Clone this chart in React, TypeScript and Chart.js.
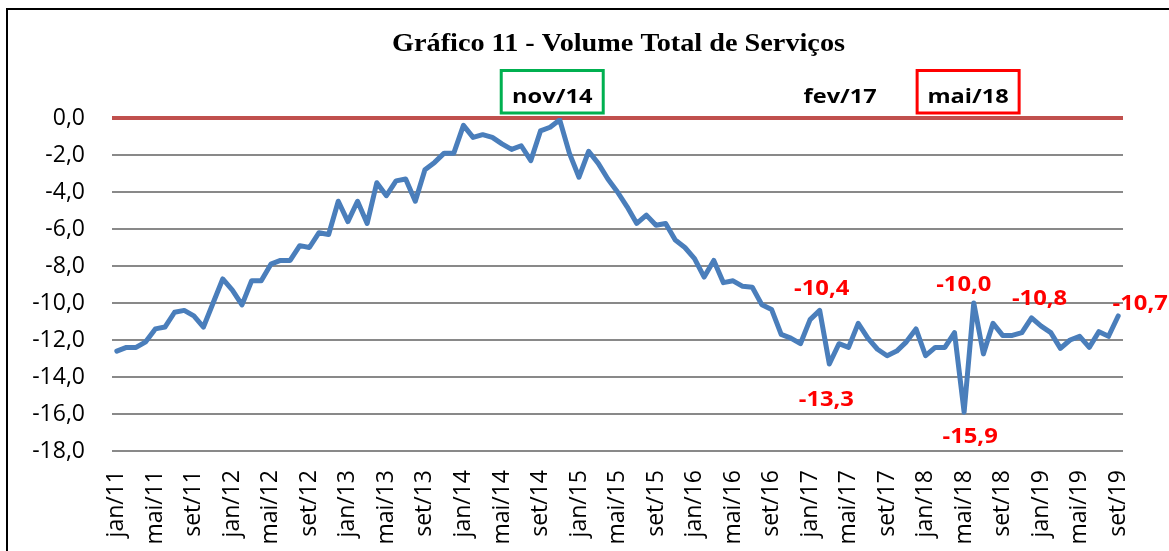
import React, { useEffect, useRef } from "react";
import { Chart, registerables } from "chart.js";

Chart.register(...registerables);

// ---------- DATA ----------
const MONTHS = ["jan", "fev", "mar", "abr", "mai", "jun", "jul", "ago", "set", "out", "nov", "dez"];
const YEARS = ["11", "12", "13", "14", "15", "16", "17", "18", "19"];
const LAST_CATEGORY = "set/19";

const allMonths: string[] = [];
YEARS.forEach((yr) => MONTHS.forEach((m) => allMonths.push(`${m}/${yr}`)));
const categories: string[] = allMonths.slice(0, allMonths.indexOf(LAST_CATEGORY) + 1);

const volumeTotal: number[] = [
  -12.6, -12.4, -12.4, -12.1, -11.4, -11.3, -10.5, -10.4, -10.7, -11.3, -10.0, -8.7,
  -9.3, -10.1, -8.8, -8.8, -7.9, -7.7, -7.7, -6.9, -7.0, -6.2, -6.3, -4.5,
  -5.6, -4.5, -5.7, -3.5, -4.2, -3.4, -3.3, -4.5, -2.8, -2.4, -1.9, -1.9,
  -0.4, -1.05, -0.9, -1.05, -1.4, -1.7, -1.5, -2.3, -0.7, -0.5, -0.1, -1.9,
  -3.2, -1.8, -2.45, -3.3, -4.0, -4.8, -5.7, -5.25, -5.8, -5.7, -6.6, -7.0,
  -7.6, -8.6, -7.7, -8.9, -8.8, -9.1, -9.15, -10.1, -10.35, -11.7, -11.9, -12.2,
  -10.9, -10.4, -13.3, -12.2, -12.4, -11.1, -11.9, -12.5, -12.85, -12.6, -12.1, -11.4,
  -12.85, -12.4, -12.4, -11.6, -15.9, -10.0, -12.75, -11.1, -11.75, -11.75, -11.6, -10.8,
  -11.25, -11.6, -12.45, -12.0, -11.8, -12.4, -11.55, -11.8, -10.7,
];

const xTickLabels: string[] = [
  "jan/11", "mai/11", "set/11", "jan/12", "mai/12", "set/12", "jan/13", "mai/13", "set/13",
  "jan/14", "mai/14", "set/14", "jan/15", "mai/15", "set/15", "jan/16", "mai/16", "set/16",
  "jan/17", "mai/17", "set/17", "jan/18", "mai/18", "set/18", "jan/19", "mai/19", "set/19",
];

const Y_MIN = -18;
const Y_MAX = 0;
const Y_STEP = 2;

const TITLE = "Gráfico 11 - Volume Total de Serviços";

// labelled points (category names)
const labelledPoints: string[] = ["fev/17", "mar/17", "mai/18", "jun/18", "dez/18", "set/19"];
// marker annotations above the plot
const markerLabels: string[] = ["nov/14", "fev/17", "mai/18"];

// ---------- STYLE / POSITION CONFIG ----------
const LABEL_OFFSETS: [number, number][] = [
  [2, -23], [-3, 34], [6, 23], [-10, -20.5], [8, -21], [22, -13.5],
];
const MARKER_DX: number[] = [-7.5, 20.5, 4];
const MARKER_BOX: (string | null)[] = ["#00B050", null, "#FF0000"];

const fmt = (v: number) => v.toFixed(1).replace(".", ",").replace("-0,0", "0,0");

function drawText(
  ctx: CanvasRenderingContext2D,
  text: string,
  x: number,
  baseline: number,
  font: string,
  color: string,
  sx = 1
) {
  ctx.save();
  ctx.font = font;
  ctx.fillStyle = color;
  ctx.textAlign = "center";
  ctx.textBaseline = "alphabetic";
  ctx.translate(x, baseline);
  ctx.scale(sx, 1);
  ctx.fillText(text, 0, 0);
  ctx.restore();
}

const decorPlugin = {
  id: "decor",
  beforeDraw(chart: any) {
    const { ctx, width, height } = chart;
    ctx.save();
    ctx.fillStyle = "#ffffff";
    ctx.fillRect(0, 0, width, height);
    ctx.strokeStyle = "#000000";
    ctx.lineWidth = 2;
    ctx.beginPath();
    ctx.moveTo(7, height + 5);
    ctx.lineTo(7, 9);
    ctx.lineTo(width + 5, 9);
    ctx.stroke();
    ctx.restore();
  },
  afterDraw(chart: any) {
    const { ctx, chartArea } = chart;
    const xs = chart.scales.x;
    const ys = chart.scales.y;

    // title
    drawText(
      ctx,
      TITLE,
      (chartArea.left + chartArea.right) / 2 + 1,
      51,
      'bold 25px "Liberation Serif"',
      "#000000",
      1.13
    );

    // markers
    markerLabels.forEach((lab, i) => {
      const idx = categories.indexOf(lab);
      const cx = xs.getPixelForValue(idx) + MARKER_DX[i];
      const box = MARKER_BOX[i];
      if (box) {
        ctx.save();
        ctx.strokeStyle = box;
        ctx.lineWidth = 3;
        ctx.strokeRect(cx - 51, chartArea.top - 47.5, 102, 42.5);
        ctx.restore();
      }
      drawText(ctx, lab, cx, chartArea.top - 15.3, 'bold 20px "Open Sans"', "#000000", 1.18);
    });

    // data labels
    labelledPoints.forEach((lab, i) => {
      const idx = categories.indexOf(lab);
      const v = volumeTotal[idx];
      const px = xs.getPixelForValue(idx);
      const py = ys.getPixelForValue(v);
      const [dx, dy] = LABEL_OFFSETS[i];
      drawText(ctx, fmt(v), px + dx, py + dy + 8, 'bold 22px "Open Sans"', "#FF0000", 1.08);
    });
  },
};

export default function App() {
  const canvasRef = useRef<HTMLCanvasElement | null>(null);

  useEffect(() => {
    if (!canvasRef.current) return;
    const chart = new Chart(canvasRef.current, {
      type: "line",
      data: {
        labels: categories,
        datasets: [
          {
            label: "Volume Total de Serviços",
            data: volumeTotal,
            borderColor: "#4A7EBB",
            backgroundColor: "#4A7EBB",
            borderWidth: 5,
            pointRadius: 0,
            pointHoverRadius: 0,
            tension: 0,
            borderJoinStyle: "round",
            borderCapStyle: "round",
          },
        ],
      },
      options: {
        animation: false,
        responsive: true,
        maintainAspectRatio: false,
        events: [],
        layout: { padding: { top: 118, left: 0, right: 46, bottom: 0 } },
        plugins: {
          legend: { display: false },
          title: { display: false },
          tooltip: { enabled: false },
        },
        scales: {
          x: {
            type: "category",
            offset: true,
            grid: { display: false, drawTicks: false },
            border: { display: false },
            afterFit: (scale: any) => {
              scale.height = 100;
            },
            ticks: {
              autoSkip: false,
              maxRotation: 90,
              minRotation: 90,
              padding: 19,
              color: "#000000",
              font: { family: '"Open Sans"', size: 23 },
              callback: (_v: any, idx: number) =>
                xTickLabels.includes(categories[idx]) ? categories[idx] : null,
            },
          },
          y: {
            min: Y_MIN,
            max: Y_MAX,
            afterFit: (scale: any) => {
              scale.width = 112;
            },
            border: { display: false },
            grid: {
              drawTicks: false,
              color: (c: any) => (c.tick && c.tick.value === 0 ? "#C0504D" : "#898989"),
              lineWidth: (c: any) => (c.tick && c.tick.value === 0 ? 4 : 2),
            },
            ticks: {
              stepSize: Y_STEP,
              padding: 27,
              color: "#000000",
              font: { family: '"Open Sans"', size: 23 },
              callback: (v: any) => fmt(Number(v)),
            },
          },
        },
      },
      plugins: [decorPlugin],
    });
    return () => chart.destroy();
  }, []);

  return (
    <div
      style={{
        position: "fixed",
        left: 0,
        top: 0,
        width: 1169,
        height: 551,
        overflow: "hidden",
        background: "#fff",
      }}
    >
      <canvas ref={canvasRef} style={{ width: "100%", height: "100%" }} />
    </div>
  );
}
